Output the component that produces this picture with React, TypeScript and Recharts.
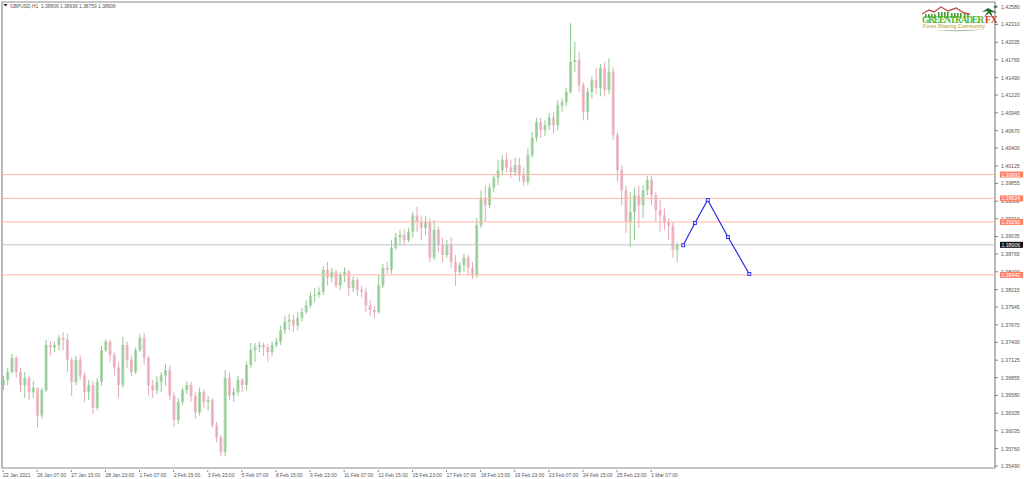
import {
  Bar,
  ComposedChart,
  Line,
  ReferenceArea,
  ReferenceLine,
  XAxis,
  YAxis,
} from "recharts";

// H1 chart, one candle kept for every 4 bars
const opens = [
  1.3674, 1.3682, 1.3694, 1.3716, 1.3694, 1.3674, 1.3685, 1.3663, 1.3670, 1.3627, 1.3666, 1.3736, 1.3732, 1.3736, 1.3747, 1.3744,
  1.3713, 1.3679, 1.3713, 1.3689, 1.3663, 1.3674, 1.3639, 1.3679, 1.3728, 1.3741, 1.3720, 1.3701, 1.3674, 1.3736, 1.3713, 1.3694,
  1.3728, 1.3747, 1.3716, 1.3674, 1.3666, 1.3679, 1.3689, 1.3697, 1.3658, 1.3620, 1.3648, 1.3666, 1.3674, 1.3657, 1.3632, 1.3663,
  1.3648, 1.3651, 1.3612, 1.3593, 1.3571, 1.3685, 1.3658, 1.3663, 1.3682, 1.3674, 1.3705, 1.3728, 1.3733, 1.3736, 1.3732, 1.3725,
  1.3736, 1.3741, 1.3759, 1.3772, 1.3775, 1.3766, 1.3778, 1.3787, 1.3797, 1.3812, 1.3813, 1.3818, 1.3852, 1.3840, 1.3849, 1.3828,
  1.3844, 1.3849, 1.3824, 1.3836, 1.3821, 1.3818, 1.3797, 1.3790, 1.3787, 1.3828, 1.3855, 1.3852, 1.3886, 1.3902, 1.3906, 1.3898,
  1.3911, 1.3936, 1.3926, 1.3917, 1.3926, 1.3871, 1.3914, 1.3890, 1.3875, 1.3890, 1.3864, 1.3849, 1.3859, 1.3871, 1.3855, 1.3844,
  1.3921, 1.3963, 1.3952, 1.3979, 1.3994, 1.4006, 1.4022, 1.4010, 1.4003, 1.4014, 1.3998, 1.3988, 1.4029, 1.4056, 1.4080, 1.4068,
  1.4075, 1.4087, 1.4075, 1.4106, 1.4111, 1.4127, 1.4173, 1.4176, 1.4137, 1.4096, 1.4127, 1.4145, 1.4133, 1.4164, 1.4130, 1.4158,
  1.4060, 1.4006, 1.3975, 1.3926, 1.3941, 1.3967, 1.3952, 1.3975, 1.3991, 1.3967, 1.3944, 1.3936, 1.3926, 1.3920, 1.3883,
];
const highs = [
  1.3688, 1.3701, 1.3722, 1.3719, 1.3701, 1.3694, 1.3688, 1.3680, 1.3663, 1.3670, 1.3744, 1.3742, 1.3741, 1.3751, 1.3756, 1.3753,
  1.3716, 1.3719, 1.3720, 1.3694, 1.3682, 1.3680, 1.3685, 1.3735, 1.3745, 1.3744, 1.3725, 1.3710, 1.3748, 1.3741, 1.3720, 1.3732,
  1.3753, 1.3754, 1.3719, 1.3682, 1.3688, 1.3694, 1.3707, 1.3704, 1.3663, 1.3654, 1.3670, 1.3680, 1.3679, 1.3663, 1.3670, 1.3668,
  1.3657, 1.3654, 1.3617, 1.3597, 1.3697, 1.3694, 1.3670, 1.3688, 1.3685, 1.3710, 1.3739, 1.3739, 1.3741, 1.3739, 1.3738, 1.3741,
  1.3747, 1.3766, 1.3781, 1.3784, 1.3783, 1.3787, 1.3793, 1.3805, 1.3818, 1.3824, 1.3825, 1.3858, 1.3864, 1.3855, 1.3852, 1.3849,
  1.3856, 1.3852, 1.3842, 1.3840, 1.3827, 1.3824, 1.3805, 1.3796, 1.3844, 1.3861, 1.3864, 1.3898, 1.3909, 1.3914, 1.3915, 1.3917,
  1.3941, 1.3949, 1.3936, 1.3935, 1.3932, 1.3929, 1.3920, 1.3902, 1.3898, 1.3902, 1.3875, 1.3864, 1.3877, 1.3875, 1.3864, 1.3932,
  1.3975, 1.3982, 1.3986, 1.3998, 1.4022, 1.4029, 1.4032, 1.4022, 1.4025, 1.4025, 1.4010, 1.4040, 1.4065, 1.4087, 1.4087, 1.4083,
  1.4094, 1.4096, 1.4114, 1.4117, 1.4133, 1.4233, 1.4204, 1.4189, 1.4142, 1.4133, 1.4151, 1.4164, 1.4170, 1.4173, 1.4179, 1.4164,
  1.4065, 1.4014, 1.3982, 1.3972, 1.3979, 1.3982, 1.3983, 1.3997, 1.3997, 1.3972, 1.3960, 1.3947, 1.3932, 1.3926, 1.3894,
];
const lows = [
  1.3666, 1.3674, 1.3692, 1.3685, 1.3663, 1.3654, 1.3651, 1.3654, 1.3608, 1.3623, 1.3663, 1.3720, 1.3725, 1.3728, 1.3728, 1.3694,
  1.3657, 1.3674, 1.3682, 1.3648, 1.3651, 1.3629, 1.3635, 1.3673, 1.3725, 1.3710, 1.3689, 1.3654, 1.3670, 1.3701, 1.3688, 1.3691,
  1.3725, 1.3705, 1.3658, 1.3654, 1.3660, 1.3663, 1.3673, 1.3651, 1.3609, 1.3614, 1.3643, 1.3660, 1.3648, 1.3622, 1.3627, 1.3639,
  1.3635, 1.3608, 1.3586, 1.3564, 1.3564, 1.3651, 1.3648, 1.3657, 1.3663, 1.3666, 1.3701, 1.3710, 1.3725, 1.3719, 1.3710, 1.3719,
  1.3732, 1.3736, 1.3753, 1.3759, 1.3756, 1.3759, 1.3772, 1.3784, 1.3793, 1.3802, 1.3809, 1.3813, 1.3828, 1.3833, 1.3824, 1.3821,
  1.3833, 1.3812, 1.3818, 1.3812, 1.3809, 1.3787, 1.3780, 1.3778, 1.3784, 1.3824, 1.3846, 1.3846, 1.3883, 1.3890, 1.3890, 1.3895,
  1.3902, 1.3911, 1.3898, 1.3906, 1.3864, 1.3867, 1.3880, 1.3864, 1.3871, 1.3855, 1.3827, 1.3844, 1.3849, 1.3844, 1.3838, 1.3840,
  1.3917, 1.3926, 1.3947, 1.3972, 1.3983, 1.3998, 1.4003, 1.3994, 1.3997, 1.3988, 1.3982, 1.3983, 1.4025, 1.4050, 1.4056, 1.4059,
  1.4068, 1.4063, 1.4068, 1.4096, 1.4105, 1.4124, 1.4158, 1.4127, 1.4083, 1.4083, 1.4117, 1.4124, 1.4120, 1.4120, 1.4124, 1.4053,
  1.3988, 1.3952, 1.3909, 1.3887, 1.3898, 1.3917, 1.3932, 1.3967, 1.3952, 1.3926, 1.3911, 1.3914, 1.3898, 1.3871, 1.3864,
];
const closes = [
  1.3682, 1.3694, 1.3716, 1.3694, 1.3674, 1.3685, 1.3663, 1.3670, 1.3627, 1.3666, 1.3736, 1.3732, 1.3736, 1.3747, 1.3744, 1.3713,
  1.3679, 1.3713, 1.3689, 1.3663, 1.3674, 1.3639, 1.3679, 1.3728, 1.3741, 1.3720, 1.3701, 1.3674, 1.3736, 1.3713, 1.3694, 1.3728,
  1.3747, 1.3716, 1.3674, 1.3666, 1.3679, 1.3689, 1.3697, 1.3658, 1.3620, 1.3648, 1.3666, 1.3674, 1.3657, 1.3632, 1.3663, 1.3648,
  1.3651, 1.3612, 1.3593, 1.3571, 1.3685, 1.3658, 1.3663, 1.3682, 1.3674, 1.3705, 1.3728, 1.3733, 1.3736, 1.3732, 1.3725, 1.3736,
  1.3741, 1.3759, 1.3772, 1.3775, 1.3766, 1.3778, 1.3787, 1.3797, 1.3812, 1.3813, 1.3818, 1.3852, 1.3840, 1.3849, 1.3828, 1.3844,
  1.3849, 1.3824, 1.3836, 1.3821, 1.3818, 1.3797, 1.3790, 1.3787, 1.3828, 1.3855, 1.3852, 1.3886, 1.3902, 1.3906, 1.3898, 1.3911,
  1.3936, 1.3926, 1.3917, 1.3926, 1.3871, 1.3914, 1.3890, 1.3875, 1.3890, 1.3864, 1.3849, 1.3859, 1.3871, 1.3855, 1.3844, 1.3921,
  1.3963, 1.3952, 1.3979, 1.3994, 1.4006, 1.4022, 1.4010, 1.4003, 1.4014, 1.3998, 1.3988, 1.4029, 1.4056, 1.4080, 1.4068, 1.4075,
  1.4087, 1.4075, 1.4106, 1.4111, 1.4127, 1.4173, 1.4176, 1.4137, 1.4096, 1.4127, 1.4145, 1.4133, 1.4164, 1.4130, 1.4158, 1.4060,
  1.4006, 1.3975, 1.3926, 1.3941, 1.3967, 1.3952, 1.3975, 1.3991, 1.3967, 1.3944, 1.3936, 1.3926, 1.3920, 1.3883, 1.38906,
];

const forecastHours = [638, 649, 661, 680, 700];
const forecastPrices = [1.389, 1.39243, 1.39599, 1.39027, 1.38456];

const priceTicks = [
  1.4258, 1.4231, 1.42035, 1.41765, 1.4149, 1.4122, 1.40945, 1.4067, 1.404, 1.40125, 1.39855, 1.3958, 1.3931, 1.39035,
  1.38765, 1.3849, 1.38215, 1.37945, 1.3767, 1.374, 1.37125, 1.36855, 1.3658, 1.36305, 1.36035, 1.3576, 1.3549,
];
const dateLabels = [
  "22 Jan 2021", "26 Jan 07:00", "27 Jan 15:00", "28 Jan 23:00", "1 Feb 07:00", "2 Feb 15:00", "3 Feb 23:00",
  "5 Feb 07:00", "8 Feb 15:00", "9 Feb 23:00", "11 Feb 07:00", "12 Feb 15:00", "15 Feb 23:00", "17 Feb 07:00",
  "18 Feb 15:00", "19 Feb 23:00", "23 Feb 07:00", "24 Feb 15:00", "25 Feb 23:00", "1 Mar 07:00",
];
const dateTicks = dateLabels.map((_, i) => i * 32);

const levels = [1.39992, 1.39624, 1.3926, 1.38442];
const lastPrice = 1.38906;

const rows: any[] = [
  ...closes.map((close, i) => ({
    hour: i * 4,
    range: [lows[i], highs[i]],
    open: opens[i],
    close,
    high: highs[i],
    low: lows[i],
  })),
  ...forecastHours.map((hour, i) => ({ hour, forecast: forecastPrices[i] })),
];

const LABEL_FONT = "'Liberation Sans', Arial, sans-serif";
const BULL = "#8fc98f";
const BEAR = "#e8a6b6";
const PRICE_DOMAIN = [1.35459, 1.42657];

// wick is the whole bar rectangle, the body is placed proportionally inside it
const Candle = (props: any) => {
  const { x, y, width, height, payload } = props;
  if (payload.high == null || !height) return null;
  const perUnit = height / (payload.high - payload.low);
  const top = y + (payload.high - Math.max(payload.open, payload.close)) * perUnit;
  const bodyHeight = Math.max(Math.abs(payload.open - payload.close) * perUnit, 0.8);
  const color = payload.close >= payload.open ? BULL : BEAR;
  return (
    <g>
      <rect x={x + width / 2 - 0.5} y={y} width={1} height={height} fill={color} />
      <rect x={x} y={top} width={width} height={bodyHeight} fill={color} fillOpacity={0.7} />
    </g>
  );
};

const DateTick = ({ x, y, index }: any) => (
  <g>
    <line x1={x} x2={x} y1={y - 4} y2={y - 2} stroke="#555" strokeWidth={0.7} />
    <text x={x} y={y + 3} fontSize={5} fontFamily={LABEL_FONT} fill="#555">
      {dateLabels[index]}
    </text>
  </g>
);

// tags come last in the tick list, so they are painted over the normal labels
const PriceTick = ({ y, payload }: any) => {
  const value = payload.value;
  if (value === lastPrice || levels.includes(value)) {
    return (
      <g>
        <rect x={1000} y={y - 3} width={23} height={6} fill={value === lastPrice ? "#111" : "#ff7f62"} />
        <text x={1001.5} y={y + 2} fontSize={5.2} fontFamily={LABEL_FONT} fill="#fff">
          {value.toFixed(5)}
        </text>
      </g>
    );
  }
  return (
    <g>
      <line x1={995} x2={998} y1={y} y2={y} stroke="#555" strokeWidth={0.7} />
      <text x={1001} y={y + 2} fontSize={5.2} fontFamily={LABEL_FONT} fill="#555">
        {value.toFixed(5)}
      </text>
    </g>
  );
};

const ForecastDot = ({ cx, cy }: any) =>
  cy == null ? null : (
    <rect x={cx - 1.5} y={cy - 1.5} width={3} height={3} fill="#dfe0ff" stroke="#2a2ae8" strokeWidth={0.9} />
  );

const Logo = () => (
  <svg width={80} height={28} viewBox="0 0 80 28" style={{ position: "absolute", left: 920, top: 5 }}>
    <polyline points="2,9 9,5 14,7 21,2 28,6 36,3 44,8 50,9" fill="none" stroke="#c0504d" strokeWidth={1.4} />
    {[5, 8, 11, 14, 18, 21, 24, 27, 31, 34, 37, 40, 44, 47].map((x) => (
      <rect key={x} x={x} y={7 + (x % 3)} width={1.6} height={6 - (x % 3)} fill="#3f9f2f" />
    ))}
    <text x={2} y={18} fontSize={9.5} fontWeight={700} fontFamily="'Liberation Serif', serif" fill="#55b82e" textLength={62}>
      GREENTRADER
    </text>
    <path d="M68 3 L62 7 L68 6 L64 12 L69 8 L73 13 L71 7 L77 8 Z" fill="#1f6b2a" />
    <path d="M73 2 L77 0 L76 3 Z" fill="#1f6b2a" />
    <text x={65} y={18} fontSize={9.5} fontWeight={700} fontFamily="'Liberation Serif', serif" fill="#c8372d">
      FX
    </text>
    <text x={3} y={23} fontSize={4.6} fontWeight={700} fontFamily={LABEL_FONT} fill="#c8b04a" textLength={62}>
      Forex Sharing Community
    </text>
    <path d="M16 25 Q40 28 66 24 Q44 26 16 25 Z" fill="#9fb59a" />
  </svg>
);

export default function App() {
  return (
    <div style={{ position: "absolute", left: 0, top: 0, width: 1024, height: 479, background: "#fff", overflow: "hidden" }}>
      <ComposedChart
        width={1024}
        height={479}
        data={rows}
        margin={{ top: 2, right: 0, bottom: 0, left: 2 }}
        barSize={3}
      >
        <XAxis
          dataKey="hour"
          type="number"
          domain={[-1, 930.5]}
          ticks={dateTicks}
          interval={0}
          height={11}
          axisLine={false}
          tickLine={false}
          tickMargin={0}
          tick={<DateTick />}
        />
        <YAxis
          orientation="right"
          width={29}
          domain={PRICE_DOMAIN}
          ticks={[...priceTicks, ...levels, lastPrice]}
          interval={0}
          axisLine={false}
          tickLine={false}
          tick={<PriceTick />}
        />
        <ReferenceArea x1={-1} x2={930.5} y1={PRICE_DOMAIN[0]} y2={PRICE_DOMAIN[1]} fill="none" stroke="#8c8c8c" strokeWidth={1.2} />
        <ReferenceLine y={lastPrice} stroke="#bcc4d0" strokeWidth={1} />
        {levels.map((level) => (
          <ReferenceLine key={level} y={level} stroke="#ffb4a6" strokeWidth={1} />
        ))}
        <Bar dataKey="range" shape={<Candle />} isAnimationActive={false} />
        <Line
          dataKey="forecast"
          stroke="#2a2ae8"
          strokeWidth={1.2}
          connectNulls
          dot={<ForecastDot />}
          activeDot={false}
          isAnimationActive={false}
        />
      </ComposedChart>
      <svg width={130} height={12} style={{ position: "absolute", left: 0, top: 0 }}>
        <path d="M3.5 4 L7.5 4 L5.5 6.5 Z" fill="#222" />
        <text x={10} y={7.5} fontSize={4.9} fontFamily={LABEL_FONT} fill="#555" style={{ whiteSpace: "pre" }}>
          GBPUSD,H1  1.38806 1.38936 1.38759 1.38906
        </text>
      </svg>
      <Logo />
    </div>
  );
}
